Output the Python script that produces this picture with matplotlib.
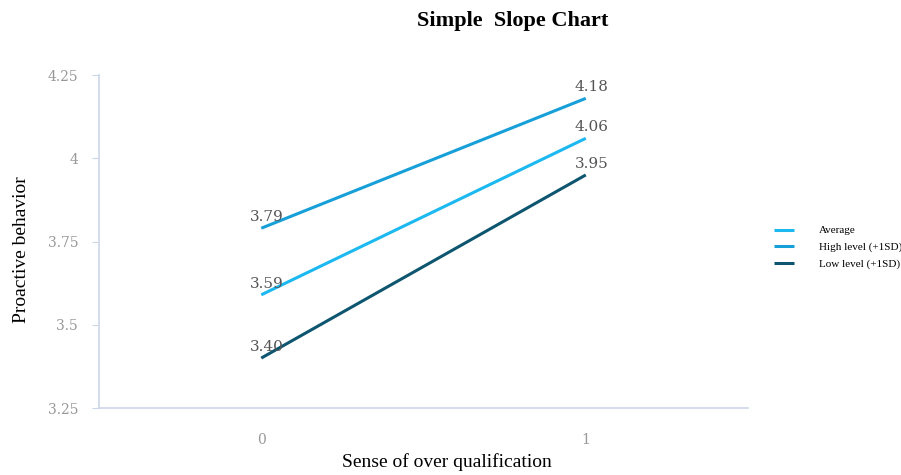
import matplotlib.pyplot as plt

# Data
x_labels = ["0", "1"]
average = [3.59, 4.06]
high = [3.79, 4.18]
low = [3.40, 3.95]
series_names = ["Average", "High level (+1SD)", "Low level (+1SD)"]
y_ticks = [3.25, 3.5, 3.75, 4, 4.25]
y_tick_labels = ["3.25", "3.5", "3.75", "4", "4.25"]

colors = ["#1cb8f0", "#17a0d8", "#0e5670"]

fig = plt.figure(figsize=(9.01, 4.75), dpi=100)
ax = fig.add_axes([0.1099, 0.141, 0.7203, 0.701])

xs = [0, 1]
for vals, name, c in zip([average, high, low], series_names, colors):
    ax.plot(xs, vals, color=c, lw=2.2, label=name, solid_capstyle="butt")
    for x, v in zip(xs, vals):
        ax.annotate(f"{v:.2f}", (x, v), xytext=(4, 3), textcoords="offset points",
                    ha="center", va="bottom", fontsize=11, color="#555555",
                    family="DejaVu Serif")

ax.set_xlim(-0.5, 1.5)
ax.set_ylim(3.25, 4.25)
ax.set_xticks(xs)
ax.set_xticklabels(x_labels)
ax.set_yticks(y_ticks)
ax.set_yticklabels(y_tick_labels)

for s in ["top", "right"]:
    ax.spines[s].set_visible(False)
for s in ["left", "bottom"]:
    ax.spines[s].set_color("#ccd6eb")
    ax.spines[s].set_linewidth(1.2)

ax.tick_params(axis="y", colors="#ccd6eb", labelcolor="#999999", length=5,
               labelsize=10, pad=10)
ax.tick_params(axis="x", length=0, labelcolor="#999999", labelsize=10, pad=18)
for t in ax.get_xticklabels() + ax.get_yticklabels():
    t.set_family("DejaVu Serif")

fig.text(0.024, 0.474, "Proactive behavior", fontsize=14, rotation=90,
         family="Liberation Serif", ha="center", va="center")
fig.text(0.496, 0.028, "Sense of over qualification", fontsize=14,
         family="Liberation Serif", ha="center", va="center")

fig.text(0.569, 0.955, "Simple  Slope Chart", fontsize=16, fontweight="bold",
         family="Liberation Serif", ha="center", va="center")

ax.legend(loc="center left", bbox_to_anchor=(1.025, 0.483), frameon=False,
          prop={"family": "Liberation Serif", "size": 8}, handlelength=1.8,
          handletextpad=2.2, labelspacing=0.6)

fig.savefig("out.png", dpi=100)
